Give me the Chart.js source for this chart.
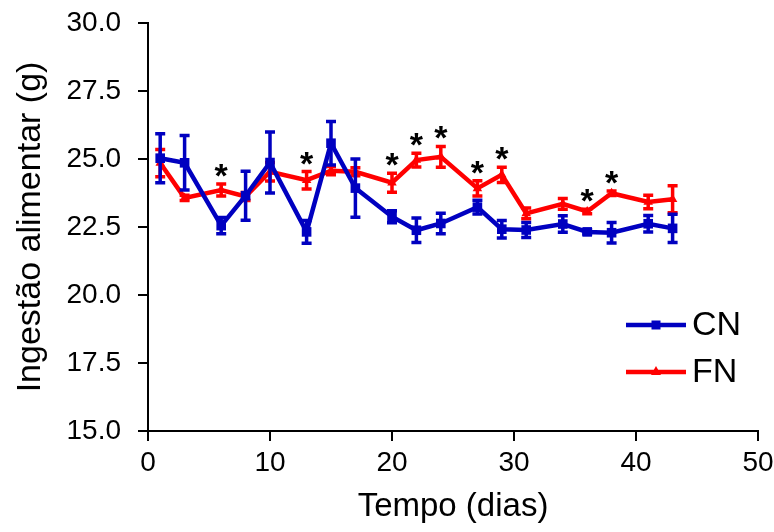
<!DOCTYPE html>
<html>
<head>
<meta charset="utf-8">
<script src="https://cdn.jsdelivr.net/npm/chart.js@4.4.1/dist/chart.umd.min.js"></script>
<style>
html,body{margin:0;padding:0;background:#fff;}
#wrap{width:774px;height:532px;position:relative;}
</style>
</head>
<body>
<div id="wrap"><canvas id="c"></canvas></div>
<script>
// ---- data ----
const days = [1, 3, 6, 8, 10, 13, 15, 17, 20, 22, 24, 27, 29, 31, 34, 36, 38, 41, 43];
const cnMean = [25.03, 24.86, 22.55, 23.65, 24.87, 22.32, 25.58, 23.93, 22.88, 22.38, 22.63, 23.23, 22.42, 22.39, 22.61, 22.32, 22.29, 22.62, 22.45];
const cnErr  = [0.90, 1.00, 0.30, 0.90, 1.12, 0.42, 0.80, 1.07, 0.22, 0.45, 0.38, 0.25, 0.32, 0.28, 0.30, 0.08, 0.38, 0.30, 0.52];
const fnMean = [24.85, 23.57, 23.86, 23.62, 24.53, 24.22, 24.57, 24.53, 24.13, 24.96, 25.08, 23.92, 24.42, 23.00, 23.35, 23.07, 23.74, 23.42, 23.52];
const fnErr  = [0.50, 0.10, 0.22, 0.15, 0.34, 0.32, 0.15, 0.15, 0.35, 0.25, 0.38, 0.28, 0.28, 0.20, 0.20, 0.08, 0.08, 0.25, 0.50];
const sigDays = [6, 13, 20, 22, 24, 27, 29, 36, 38];
const seriesNames = ['CN', 'FN'];
const yTicks = [15, 17.5, 20, 22.5, 25, 27.5, 30];
const xTicks = [0, 10, 20, 30, 40, 50];

const BLUE = '#0000C0';
const RED = '#FF0000';
const FONT = '"Liberation Sans", Arial, sans-serif';

const toPts = (m) => days.map((d, i) => ({x: d, y: m[i]}));

const errorBars = {
  id: 'errorBars',
  beforeDatasetDraw(chart, args) {
    const ds = chart.data.datasets[args.index];
    const ys = chart.scales.y;
    const ctx = chart.ctx;
    ctx.save();
    ctx.strokeStyle = ds.borderColor;
    ctx.lineWidth = 3.5;
    ctx.lineCap = 'butt';
    args.meta.data.forEach((pt, i) => {
      const v = ds.data[i].y, e = ds.errs[i];
      const yt = ys.getPixelForValue(v + e);
      const yb = ys.getPixelForValue(v - e);
      ctx.beginPath();
      ctx.moveTo(pt.x, yt); ctx.lineTo(pt.x, yb);
      ctx.moveTo(pt.x - 5, yt); ctx.lineTo(pt.x + 5, yt);
      ctx.moveTo(pt.x - 5, yb); ctx.lineTo(pt.x + 5, yb);
      ctx.stroke();
    });
    ctx.restore();
  }
};

const stars = {
  id: 'stars',
  afterDatasetsDraw(chart) {
    const ctx = chart.ctx;
    const xs = chart.scales.x, ys = chart.scales.y;
    ctx.save();
    ctx.fillStyle = '#000';
    ctx.font = 'bold 34px ' + FONT;
    ctx.textAlign = 'center';
    ctx.textBaseline = 'alphabetic';
    sigDays.forEach(d => {
      const i = days.indexOf(d);
      const top = Math.min(ys.getPixelForValue(fnMean[i] + fnErr[i]), ys.getPixelForValue(cnMean[i] + cnErr[i]));
      const cy = top - 16;
      ctx.fillText('*', xs.getPixelForValue(d), cy + 19);
    });
    ctx.restore();
  }
};

const legendPlugin = {
  id: 'customLegend',
  afterDraw(chart) {
    const ctx = chart.ctx;
    const items = [
      {name: seriesNames[0], color: BLUE, y: 325, style: 'rect'},
      {name: seriesNames[1], color: RED, y: 372, style: 'triangle'}
    ];
    ctx.save();
    items.forEach(it => {
      ctx.strokeStyle = it.color;
      ctx.lineWidth = 4.5;
      ctx.beginPath();
      ctx.moveTo(626, it.y); ctx.lineTo(686, it.y);
      ctx.stroke();
      ctx.fillStyle = it.color;
      if (it.style === 'rect') {
        ctx.fillRect(651.5, it.y - 4.5, 9, 9);
      } else {
        ctx.beginPath();
        ctx.moveTo(656, it.y - 6);
        ctx.lineTo(661, it.y + 3);
        ctx.lineTo(651, it.y + 3);
        ctx.closePath();
        ctx.fill();
      }
      ctx.fillStyle = '#000';
      ctx.font = '34px ' + FONT;
      ctx.textAlign = 'left';
      ctx.textBaseline = 'middle';
      ctx.fillText(it.name, 692, it.y + 1);
    });
    ctx.restore();
  }
};

new Chart(document.getElementById('c'), {
  type: 'line',
  data: {
    datasets: [
      {
        label: seriesNames[0], data: toPts(cnMean), errs: cnErr,
        borderColor: BLUE, backgroundColor: BLUE, borderWidth: 4.5,
        pointStyle: 'rect', pointRadius: 6.8, pointBorderWidth: 0, tension: 0
      },
      {
        label: seriesNames[1], data: toPts(fnMean), errs: fnErr,
        borderColor: RED, backgroundColor: RED, borderWidth: 4.5,
        pointStyle: 'triangle', pointRadius: 5.5, pointBorderWidth: 0, tension: 0
      }
    ]
  },
  options: {
    responsive: true,
    maintainAspectRatio: false,
    animation: false,
    events: [],
    layout: {padding: {top: 23, right: 16, bottom: 0, left: 0}},
    plugins: {legend: {display: false}, tooltip: {enabled: false}},
    scales: {
      x: {
        type: 'linear', min: 0, max: 50,
        afterBuildTicks: (s) => { s.ticks = xTicks.map(v => ({value: v})); },
        afterFit: (s) => { s.height = 101; s.paddingLeft = 0; s.paddingRight = 0; },
        border: {display: true, color: '#000', width: 2},
        grid: {display: true, drawOnChartArea: false, drawTicks: true, tickLength: 10, color: '#000', lineWidth: 2},
        ticks: {color: '#000', font: {family: FONT, size: 28}, padding: 5, maxRotation: 0, callback: (v) => String(v)},
        title: {display: true, text: 'Tempo (dias)', color: '#000', font: {family: FONT, size: 33}, padding: {top: 0, bottom: 5}}
      },
      y: {
        type: 'linear', min: 15, max: 30,
        afterBuildTicks: (s) => { s.ticks = yTicks.map(v => ({value: v})); },
        afterFit: (s) => { s.width = 148; s.paddingTop = 0; s.paddingBottom = 0; },
        border: {display: true, color: '#000', width: 2},
        grid: {display: true, drawOnChartArea: false, drawTicks: true, tickLength: 10, color: '#000', lineWidth: 2},
        ticks: {color: '#000', font: {family: FONT, size: 28}, padding: 17, callback: (v) => Number(v).toFixed(1)},
        title: {display: true, text: 'Ingestão alimentar (g)', color: '#000', font: {family: FONT, size: 34}, padding: {top: 10, bottom: 0}}
      }
    }
  },
  plugins: [errorBars, stars, legendPlugin]
});
</script>
</body>
</html>
